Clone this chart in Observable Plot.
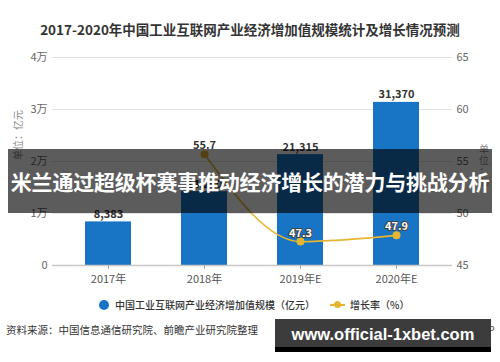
<!DOCTYPE html>
<html>
<head>
<meta charset="utf-8">
<script src="https://cdn.jsdelivr.net/npm/d3@7"></script>
<script src="https://cdn.jsdelivr.net/npm/@observablehq/plot@0.6"></script>
<style>
  html, body { margin: 0; padding: 0; background: #fff; }
  body { font-family: "Noto Sans CJK SC", sans-serif; }
  #wrap { position: relative; width: 500px; height: 362px; overflow: hidden; }
  .abs { position: absolute; white-space: nowrap; }
</style>
</head>
<body>
<div id="wrap"></div>
<script>
const years = ["2017年", "2018年", "2019年E", "2020年E"];
const values = [8383, 14200, 21315, 31370];
const rateYears = ["2018年", "2019年E", "2020年E"];
const rates = [55.7, 47.3, 47.9];
const leftTicks = [0, 10000, 20000, 30000, 40000];
const leftTickLabels = ["0", "1万", "2万", "3万", "4万"];
const rightTickLabels = ["45", "50", "55", "60", "65"];

const title = "2017-2020年中国工业互联网产业经济增加值规模统计及增长情况预测";
const bannerText = "米兰通过超级杯赛事推动经济增长的潜力与挑战分析";
const sourceText = "资料来源：中国信息通信研究院、前瞻产业研究院整理";

const bars = years.map((y, i) => ({year: y, value: values[i]}));
// map rate (45..65) onto left scale (0..40000)
const toLeft = v => (v - 45) * 2000;
const rateData = rateYears.map((y, i) => ({year: y, rate: rates[i], yv: toLeft(rates[i])}));

const blue = "#1874c4";
const gold = "#e6b531";

const chart = Plot.plot({
  width: 500,
  height: 362,
  marginTop: 57,
  marginBottom: 97,
  marginLeft: 52,
  marginRight: 48,
  style: {fontFamily: "'Noto Sans CJK SC', sans-serif", background: "transparent"},
  x: {type: "band", domain: years, paddingInner: 0.526, paddingOuter: 0.325},
  y: {domain: [0, 40000]},
  marks: [
    Plot.gridY(leftTicks.slice(1), {stroke: "#e2e2e2", strokeOpacity: 1}),
    Plot.barY(bars, {x: "year", y: "value", fill: blue}),
    Plot.ruleY([0], {stroke: "#c8c8c8", strokeWidth: 1.5}),
    Plot.axisY({ticks: leftTicks, tickSize: 0, tickPadding: 5, label: null,
      tickFormat: d => leftTickLabels[leftTicks.indexOf(d)], fill: "#666", fontSize: 11}),
    Plot.axisY({anchor: "right", ticks: leftTicks, tickSize: 0, tickPadding: 4, label: null,
      tickFormat: d => rightTickLabels[leftTicks.indexOf(d)], fill: "#666", fontSize: 11}),
    Plot.axisX({tickSize: 4, tickPadding: 6, label: null, fill: "#555", stroke: "#aaa", fontSize: 11}),
    Plot.text(bars, {x: "year", y: "value", text: d => d3.format(",")(d.value),
      lineAnchor: "bottom", dy: -4, fontSize: 11, fontWeight: "bold", fill: "#333"}),
    Plot.line(rateData, {x: "year", y: "yv", stroke: gold, strokeWidth: 1.6, curve: "monotone-x"}),
    Plot.dot(rateData, {x: "year", y: "yv", r: 4, fill: gold}),
    Plot.text(rateData.slice(0, 1), {x: "year", y: "yv", text: d => d.rate.toFixed(1),
      lineAnchor: "bottom", dy: -5, fontSize: 11, fontWeight: "bold", fill: "#333"}),
    Plot.text(rateData.slice(1), {x: "year", y: "yv", text: d => d.rate.toFixed(1),
      lineAnchor: "bottom", dy: -5, fontSize: 11, fontWeight: "bold", fill: "#fff",
      stroke: "#444", strokeWidth: 2})
  ]
});

const wrap = document.getElementById("wrap");
chart.style.position = "absolute";
chart.style.left = "0px";
chart.style.top = "0px";
wrap.appendChild(chart);

function add(html, css) {
  const d = document.createElement("div");
  d.className = "abs";
  d.innerHTML = html;
  Object.assign(d.style, css);
  wrap.appendChild(d);
  return d;
}

// title
add(title, {left: "0px", width: "500px", textAlign: "center", top: "21px",
  fontSize: "13.5px", fontWeight: "bold", color: "#333", lineHeight: "17px"});

// axis titles
add("单位：亿元", {left: "12px", top: "160px", fontSize: "10px", color: "#888",
  transform: "rotate(-90deg)", transformOrigin: "left top", lineHeight: "12px"});
add("单<br>位<br>：<br>%", {left: "478px", top: "143px", fontSize: "10px", color: "#888",
  lineHeight: "11px", textAlign: "center", width: "12px"});

// legend
add("", {left: "99px", top: "300px", width: "10px", height: "10px", borderRadius: "50%", background: blue});
add("中国工业互联网产业经济增加值规模（亿元）", {left: "115px", top: "298px", fontSize: "10px",
  fontWeight: "500", color: "#333", lineHeight: "14px"});
add("", {left: "330px", top: "304px", width: "15px", height: "2px", background: gold});
add("", {left: "334px", top: "301px", width: "7px", height: "7px", borderRadius: "50%", background: gold});
add("增长率（%）", {left: "350px", top: "298px", fontSize: "10px", fontWeight: "500",
  color: "#333", lineHeight: "14px"});

// source
add(sourceText, {left: "6px", top: "323px", fontSize: "10.5px", color: "#333", lineHeight: "14px"});
add("@前瞻经济学人APP", {left: "402px", top: "323px", fontSize: "10.5px", color: "#555", lineHeight: "14px"});

// overlay banner
add(bannerText, {left: "8px", top: "149px", width: "484px", height: "64px", background: "rgba(0,0,0,0.64)",
  color: "#fff", fontSize: "21px", fontWeight: "bold", lineHeight: "64px", textAlign: "center",
  letterSpacing: "-0.2px"});

// bottom watermark box
add("", {left: "275px", top: "319px", width: "216px", height: "33px", background: "#000"});
add("www.official-1xbet.com", {left: "275px", top: "319px", width: "216px", height: "28px",
  background: "#3c3c3c", color: "#fff", fontFamily: "'Liberation Sans', Arial, sans-serif",
  fontSize: "16.5px", fontWeight: "bold", lineHeight: "30px", textAlign: "center"});
</script>
</body>
</html>
